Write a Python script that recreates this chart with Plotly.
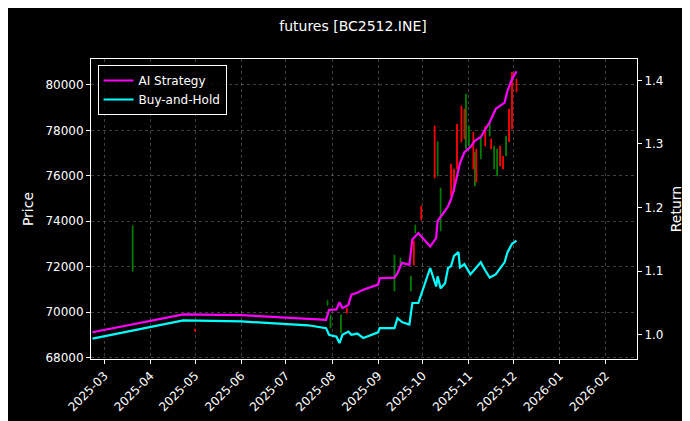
import plotly.graph_objects as go

line_dates = ["2025-02-21","2025-04-23","2025-06-01","2025-07-16","2025-07-28","2025-07-30","2025-08-04",
    "2025-08-06","2025-08-08","2025-08-12","2025-08-14","2025-08-18","2025-08-22","2025-09-01","2025-09-02",
    "2025-09-12","2025-09-14","2025-09-17","2025-09-22","2025-09-24","2025-09-28","2025-10-06","2025-10-10",
    "2025-10-11","2025-10-13","2025-10-16","2025-10-18","2025-10-20","2025-10-22","2025-10-25","2025-10-26",
    "2025-10-29","2025-11-02","2025-11-05","2025-11-09","2025-11-12","2025-11-15","2025-11-19","2025-11-25",
    "2025-11-27","2025-11-30","2025-12-03"]
ai_strategy = [1.004,1.032,1.031,1.025,1.0236,1.039,1.040,1.051,1.042,1.047,1.063,1.066,1.071,1.079,1.089,
    1.090,1.097,1.113,1.110,1.150,1.160,1.139,1.152,1.179,1.185,1.195,1.202,1.213,1.229,1.260,1.270,
    1.287,1.295,1.305,1.311,1.323,1.334,1.355,1.365,1.384,1.402,1.414]
buy_hold = [0.994,1.0226,1.021,1.015,1.0105,1.000,0.997,0.987,1.000,1.005,1.000,1.002,0.995,1.004,1.0105,
    1.0105,1.026,1.020,1.016,1.050,1.050,1.105,1.076,1.092,1.073,1.081,1.105,1.108,1.124,1.130,1.106,
    1.111,1.095,1.103,1.114,1.101,1.090,1.095,1.114,1.130,1.143,1.148]

candle_dates = ["2025-03-20","2025-05-01","2025-07-29","2025-07-31","2025-08-07","2025-08-11","2025-09-12",
    "2025-09-16","2025-09-23","2025-09-25","2025-09-26","2025-09-30","2025-10-09","2025-10-11","2025-10-13",
    "2025-10-20","2025-10-22","2025-10-24","2025-10-27","2025-10-29","2025-10-30","2025-11-01","2025-11-04",
    "2025-11-05","2025-11-06","2025-11-09","2025-11-12","2025-11-15","2025-11-16","2025-11-18","2025-11-20",
    "2025-11-22","2025-11-24","2025-11-26","2025-11-28","2025-11-30","2025-12-03"]
c_low  = [71800,69150,70300,69300,69070,69950,70925,72070,70925,72070,73480,74050,75900,76000,73570,
    75110,75290,76300,77490,77620,77180,77310,76300,75550,75730,76740,77310,77750,77180,76300,75990,
    76430,76300,76870,77490,78060,79690]
c_high = [73800,69250,70500,69870,69870,70170,72500,72380,71580,73130,73830,74670,78200,77500,75460,
    76520,76300,78280,79075,78940,79600,78190,77930,77050,77180,77750,78190,78410,77620,77310,77180,
    77310,76870,77750,78940,80570,80260]
c_up = [1,0,1,1,1,0,1,1,1,0,1,0,0,1,1,0,0,0,0,0,1,1,0,1,0,1,0,1,0,1,1,0,0,1,0,0,0]

c_open = [l if u else h for l, h, u in zip(c_low, c_high, c_up)]
c_close = [h if u else l for l, h, u in zip(c_low, c_high, c_up)]

fig = go.Figure()
fig.add_trace(go.Candlestick(x=candle_dates, open=c_open, high=c_high, low=c_low, close=c_close,
    increasing=dict(line=dict(color="#008000", width=1), fillcolor="#008000"),
    decreasing=dict(line=dict(color="#ff0000", width=1), fillcolor="#ff0000"),
    showlegend=False, yaxis="y", whiskerwidth=0))
fig.add_trace(go.Scatter(x=line_dates, y=ai_strategy, mode="lines", name="AI Strategy",
    line=dict(color="#ff00ff", width=2.2), yaxis="y2"))
fig.add_trace(go.Scatter(x=line_dates, y=buy_hold, mode="lines", name="Buy-and-Hold",
    line=dict(color="#00ffff", width=2.2), yaxis="y2"))

grid = dict(showgrid=True, gridcolor="rgba(140,140,140,0.45)", griddash="dot", gridwidth=0.5)
fig.update_layout(
    width=690, height=421, paper_bgcolor="black", plot_bgcolor="black",
    font=dict(family="DejaVu Sans", color="white", size=12),
    margin=dict(l=83, r=61, t=51, b=70),
    title=dict(text="futures [BC2512.INE]", x=0.5, xanchor="center", y=1 - 18/421, yanchor="middle",
               font=dict(size=14, color="white")),
    xaxis=dict(type="date", range=["2025-02-20", "2026-02-22"], dtick="M1", tickformat="%Y-%m",
               tick0="2025-03-01", tickangle=-45, ticks="outside", ticklen=4, tickcolor="white",
               showline=True, linecolor="white", mirror=True, rangeslider=dict(visible=False),
               zeroline=False, **grid),
    yaxis=dict(title=dict(text="Price", standoff=8), range=[67930, 81145], dtick=2000,
               tickformat="d", ticks="outside", ticklen=4, tickcolor="white",
               showline=True, linecolor="white", zeroline=False, **grid),
    yaxis2=dict(title=dict(text="Return", standoff=8), overlaying="y", side="right",
                range=[0.962, 1.4335], dtick=0.1, tickformat=".1f", ticks="outside", ticklen=4,
                tickcolor="white", showline=True, linecolor="white", showgrid=False, zeroline=False),
    legend=dict(x=0.012, y=0.98, xanchor="left", yanchor="top", bgcolor="rgba(0,0,0,0.8)",
                bordercolor="white", borderwidth=1, font=dict(size=12)),
)
fig.write_html("out.html")
